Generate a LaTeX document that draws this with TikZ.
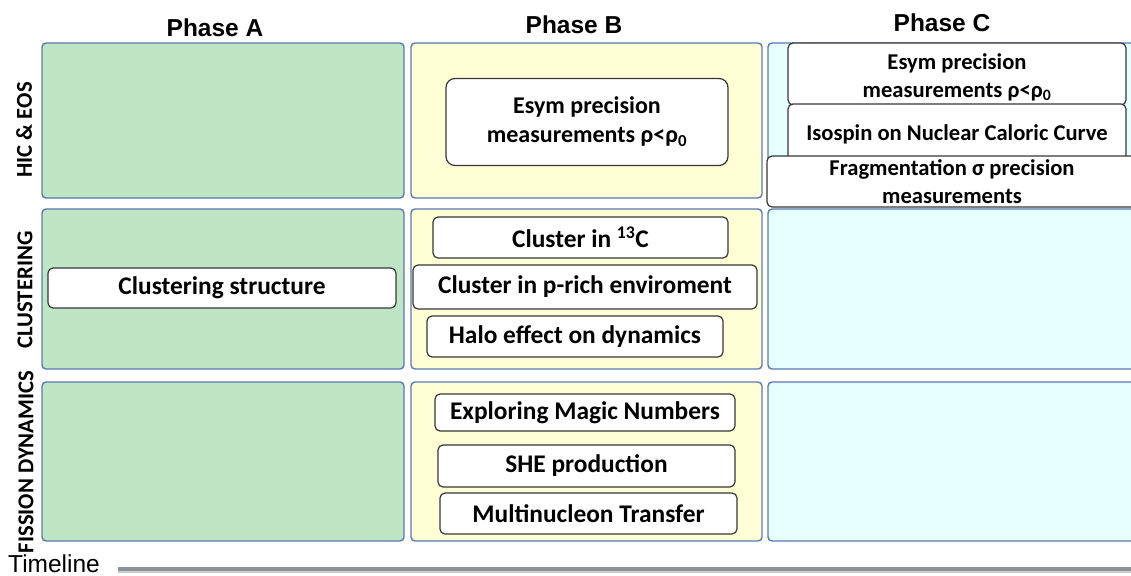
\documentclass[tikz,border=0pt]{standalone}
\usepackage{fontspec}
\setmainfont{Carlito}
\newfontfamily\arial{Liberation Sans}
\usetikzlibrary{fit}
\definecolor{pgreen}{RGB}{190,230,196}
\definecolor{pyellow}{RGB}{255,255,214}
\definecolor{pcyan}{RGB}{230,255,255}
\definecolor{pborder}{RGB}{90,120,178}
\definecolor{bborder}{RGB}{55,55,55}
\definecolor{tline}{RGB}{140,145,152}
\tikzset{
  panel/.style={draw=pborder, line width=1.4pt, rounded corners=4pt, inner sep=0pt},
  greenp/.style={panel, fill=pgreen},
  yellowp/.style={panel, fill=pyellow},
  cyanp/.style={panel, fill=pcyan},
  itembox/.style={draw=bborder, fill=white, line width=1.2pt, rounded corners=5pt, inner sep=0pt, align=center, font=\bfseries},
  midtext/.style={font=\bfseries\fontsize{25.4}{29}\selectfont},
  ctext/.style={font=\bfseries\fontsize{22.6}{28}\selectfont},
  header/.style={font=\arial\bfseries\fontsize{24.5}{28}\selectfont, inner sep=0pt},
  rowlabel/.style={rotate=90, font=\bfseries\fontsize{22.7}{26}\selectfont, inner sep=0pt},
}
\begin{document}
\begin{tikzpicture}[x=1pt,y=-1pt]
\useasboundingbox (0,0) rectangle (1131,575);
\clip (0,0) rectangle (1131,575);
% headers
\node[header] (hA) at (215,28) {Phase A};
\node[header] (hB) at (574,25) {Phase B};
\node[header] (hC) at (942,23) {Phase C};
% row labels
\node[rowlabel] (r1) at (24,130) {HIC \& EOS};
\node[rowlabel] (r2) at (25,290) {CLUSTERING};
\node[rowlabel] (r3) at (26,462) {FISSION DYNAMICS};
% panels
\node[greenp, fit={(42,43) (404,198)}] (a1) {};
\node[greenp, fit={(42,209) (404,369)}] (a2) {};
\node[greenp, fit={(42,382) (404,541)}] (a3) {};
\node[yellowp, fit={(411,43) (762,198)}] (b1) {};
\node[yellowp, fit={(411,209) (762,369)}] (b2) {};
\node[yellowp, fit={(411,382) (762,541)}] (b3) {};
\node[cyanp, fit={(768,43) (1150,198)}] (c1) {};
\node[cyanp, fit={(768,209) (1150,369)}] (c2) {};
\node[cyanp, fit={(768,382) (1150,541)}] (c3) {};
% phase B row 1
\node[itembox, rounded corners=9pt, minimum width=282pt, minimum height=87pt, font=\bfseries\fontsize{24}{29}\selectfont] (esymB) at (587,122) {Esym precision\\measurements ρ<ρ\textsubscript{0}};
% phase C row 1
\node[itembox, minimum width=338pt, minimum height=62pt] (esymC) at (957,74) {};
\node[ctext, align=center, inner sep=0pt] (esymCt) at (957,77) {Esym precision\\measurements ρ<ρ\textsubscript{0}};
\node[itembox, minimum width=338pt, minimum height=60pt, ctext] (iso) at (957,134) {Isospin on Nuclear Caloric Curve};
\node[itembox, minimum width=370pt, minimum height=51pt, ctext] (frag) at (952,181.5) {Fragmentation σ precision\\measurements};
% phase A row 2
\node[itembox, minimum width=348pt, minimum height=40pt, midtext] (clus) at (222,288) {Clustering structure};
% phase B row 2
\node[itembox, minimum width=295pt, minimum height=41pt, midtext] (c13) at (580.5,237.5) {Cluster in \textsuperscript{13}C};
\node[itembox, minimum width=344pt, minimum height=44pt, midtext] (prich) at (585,287) {Cluster in p-rich enviroment};
\node[itembox, minimum width=296pt, minimum height=41pt, midtext] (halo) at (575,336.5) {Halo effect on dynamics};
% phase B row 3
\node[itembox, minimum width=300pt, minimum height=37pt, midtext] (magic) at (585,412.5) {Exploring Magic Numbers};
\node[itembox, minimum width=297pt, minimum height=42pt, midtext] (she) at (586.5,466) {SHE production};
\node[itembox, minimum width=297pt, minimum height=41pt, midtext] (multi) at (588.5,513.5) {Multinucleon Transfer};
% timeline
\node[font=\arial\fontsize{24.5}{28}\selectfont, inner sep=0pt, anchor=base west] (tl) at (8,572) {Timeline};
\coordinate (ts) at (118,569.5);
\coordinate (te) at (1131,569.5);
\draw[tline, line width=5pt] (ts) -- (te);
\draw[black!20, line width=1.2pt] ([yshift=-2.5pt]ts) -- ([yshift=-2.5pt]te);
\end{tikzpicture}
\end{document}
